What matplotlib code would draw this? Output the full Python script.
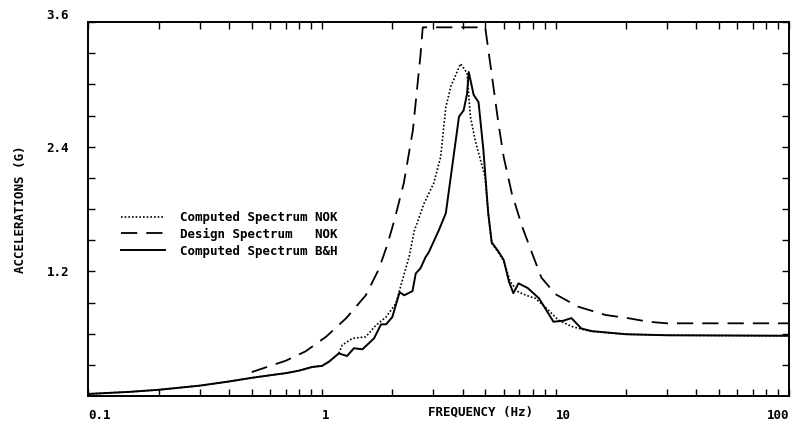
import numpy as np
import matplotlib
matplotlib.use("Agg")
import matplotlib.pyplot as plt
import matplotlib.transforms as mtransforms
from matplotlib.ticker import LogLocator, NullFormatter, FixedLocator

# Computed spectrum B&H (solid)
freq_bh = [0.1, 0.15, 0.2, 0.3, 0.4, 0.5, 0.6, 0.7, 0.8, 0.91, 1.0, 1.07,
           1.18, 1.28, 1.37, 1.49, 1.67, 1.79, 1.88, 2.0, 2.15, 2.25, 2.44,
           2.52, 2.64, 2.78, 2.86, 3.17, 3.39, 3.86, 4.04, 4.18, 4.25, 4.46,
           4.68, 4.91, 5.15, 5.33, 5.7, 6.0, 6.32, 6.6, 6.94, 7.6, 8.5, 9.8,
           10.8, 11.7, 12.9, 14.3, 20, 30, 100]
acc_bh = [0.02, 0.04, 0.06, 0.10, 0.14, 0.175, 0.20, 0.22, 0.245, 0.28, 0.29,
          0.33, 0.41, 0.385, 0.46, 0.45, 0.555, 0.69, 0.69, 0.76, 1.00, 0.97,
          1.01, 1.18, 1.23, 1.34, 1.38, 1.60, 1.76, 2.69, 2.75, 2.91, 3.12,
          2.90, 2.83, 2.37, 1.76, 1.48, 1.39, 1.31, 1.10, 0.99, 1.085, 1.04,
          0.94, 0.715, 0.725, 0.75, 0.65, 0.625, 0.595, 0.585, 0.58]

# Computed spectrum NOK (dotted)
freq_nok = [0.1, 0.15, 0.2, 0.3, 0.4, 0.5, 0.6, 0.7, 0.8, 0.91, 1.0, 1.07,
            1.18, 1.22, 1.35, 1.54, 1.70, 1.88, 2.07, 2.19, 2.36, 2.49, 2.55,
            2.73, 3.01, 3.22, 3.39, 3.56, 3.92, 4.18, 4.32, 4.53, 4.99, 5.15,
            5.33, 5.7, 6.0, 6.4, 6.94, 7.7, 8.2, 9.0, 10.3, 11.7, 13.4, 14.5,
            20, 30, 100]
acc_nok = [0.02, 0.04, 0.06, 0.10, 0.14, 0.175, 0.20, 0.22, 0.245, 0.28, 0.29,
           0.33, 0.41, 0.49, 0.555, 0.57, 0.68, 0.76, 0.89, 1.085, 1.34, 1.60,
           1.66, 1.85, 2.05, 2.30, 2.78, 2.98, 3.20, 3.11, 2.69, 2.46, 2.11,
           1.76, 1.47, 1.38, 1.30, 1.10, 1.00, 0.96, 0.94, 0.86, 0.73, 0.67,
           0.635, 0.62, 0.595, 0.585, 0.58]

# Design spectrum NOK (dashed)
freq_des = [0.5, 0.6, 0.7, 0.85, 1.04, 1.27, 1.54, 1.75, 1.9, 2.04, 2.24,
            2.45, 2.64, 2.7, 5.0, 5.18, 5.7, 6.0, 6.5, 7.2, 7.95, 8.7, 10,
            12.5, 16.4, 20.4, 25, 30, 100]
acc_des = [0.23, 0.29, 0.34, 0.43, 0.57, 0.75, 0.97, 1.22, 1.45, 1.69, 2.05,
           2.56, 3.28, 3.55, 3.55, 3.30, 2.62, 2.30, 1.95, 1.63, 1.37, 1.14,
           0.98, 0.86, 0.78, 0.75, 0.715, 0.70, 0.70]

x_ticks = [0.1, 1, 10, 100]
x_labels = ["0.1", "1", "10", "100"]
y_ticks = [1.2, 2.4, 3.6]
y_labels = ["1.2", "2.4", "3.6"]

font = "DejaVu Sans Mono"

fig = plt.figure(figsize=(7.93, 4.26), dpi=100)
ax = fig.add_axes([0.1116, 0.0704, 0.8834, 0.8776])

ax.plot(freq_nok, acc_nok, color="black", lw=1.2, linestyle=(0, (1, 1.2)),
        label="Computed Spectrum NOK")
ax.plot(freq_des, acc_des, color="black", lw=1.3, linestyle=(0, (9, 5)),
        label="Design Spectrum   NOK")
ax.plot(freq_bh, acc_bh, color="black", lw=1.4,
        label="Computed Spectrum B&H")

ax.set_xscale("log")
ax.set_xlim(0.1, 100)
ax.set_ylim(0, 3.6)

ax.set_xticks(x_ticks)
ax.set_xticklabels(x_labels)
ax.xaxis.set_minor_locator(LogLocator(base=10, subs=np.arange(2, 10)))
ax.xaxis.set_minor_formatter(NullFormatter())
ax.set_yticks(y_ticks)
ax.set_yticklabels(y_labels)
ax.yaxis.set_minor_locator(FixedLocator(np.arange(0.3, 3.6, 0.3)))

ax.tick_params(which="both", direction="in", top=True, right=True,
               length=5, width=1.0)
ax.tick_params(axis="x", pad=9)
ax.tick_params(axis="y", pad=14)
for lab in ax.get_xticklabels() + ax.get_yticklabels():
    lab.set_fontfamily(font)
    lab.set_fontweight("bold")
    lab.set_fontsize(9)
xlabs = ax.get_xticklabels()
for lab in xlabs[:-1]:
    lab.set_horizontalalignment("left")
xlabs[-1].set_horizontalalignment("right")

# top y label sits a little above its tick in the original
top_lab = ax.get_yticklabels()[-1]
top_lab.set_transform(top_lab.get_transform() +
                      mtransforms.ScaledTranslation(0, 6 / 72, fig.dpi_scale_trans))

for sp in ax.spines.values():
    sp.set_linewidth(1.4)

ax.set_ylabel("ACCELERATIONS (G)", fontfamily=font, fontweight="bold",
              fontsize=9, labelpad=14)
fig.text(480 / 793, 1 - 412 / 426, "FREQUENCY (Hz)", fontfamily=font,
         fontweight="bold", fontsize=9, ha="center", va="center")

leg = ax.legend(loc="upper left", bbox_to_anchor=(0.03, 0.525), frameon=False,
                handlelength=3.5, handletextpad=1.2, labelspacing=0.3,
                prop={"family": font, "weight": "bold", "size": 9})

fig.savefig("out.png", dpi=100)
